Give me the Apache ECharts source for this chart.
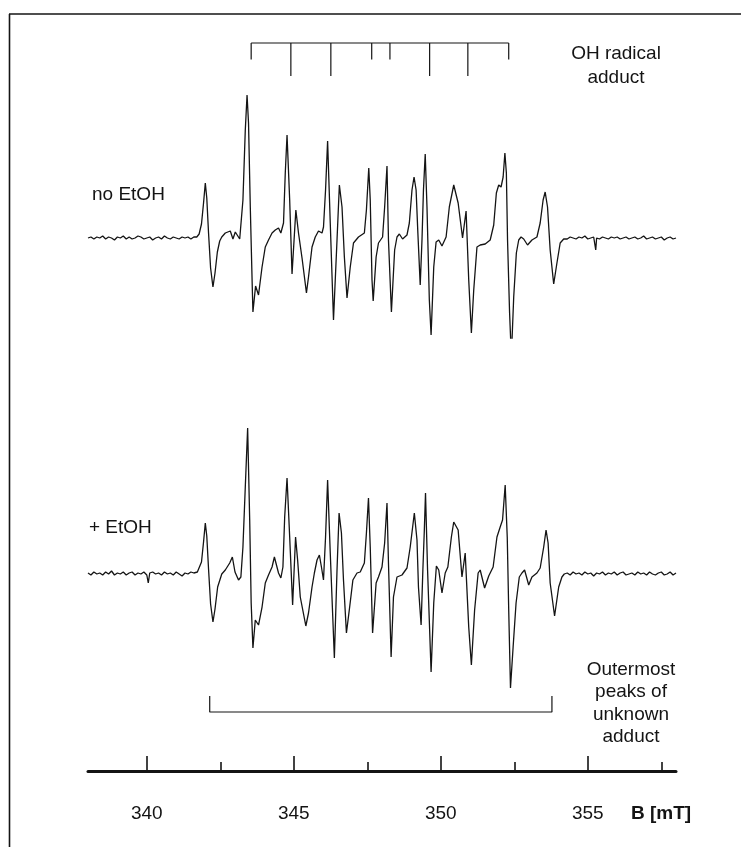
<!DOCTYPE html>
<html>
<head>
<meta charset="utf-8">
<script src="https://cdn.jsdelivr.net/npm/echarts@6/dist/echarts.min.js"></script>
<style>
  html, body { margin: 0; padding: 0; background: #fff; }
  #chart { width: 741px; height: 854px; }
</style>
</head>
<body>
<div id="chart"></div>
<script>
// field axis, mT
const fieldMin = 338;
const fieldMax = 358;
const majorTicks = [340, 345, 350, 355];
const minorTicks = [342.5, 347.5, 352.5, 357.5];

// stick diagram of the OH radical adduct (line positions, relative height)
const ohLines = [343.55, 344.90, 346.26, 347.65, 348.27, 349.62, 350.92, 352.31];
const ohRel = [1, 2, 2, 1, 1, 2, 2, 1];

// outermost peaks of the unknown adduct
const unknownOuter = [342.14, 353.78];

// spectrum without ethanol: [B (mT), signal]
const noEtOH = [
  [338.0, 0], [338.1, 1], [338.2, -1], [338.3, 1], [338.4, 0], [338.5, 2], [338.6, -1], [338.7, 1],
  [338.8, 0], [338.9, -2], [339.0, 1], [339.1, 0], [339.2, 2], [339.3, -1], [339.4, 1], [339.5, -1],
  [339.6, 0], [339.7, 2], [339.8, 1], [339.9, -1], [340.0, 0], [340.1, 1], [340.2, -2], [340.3, 0],
  [340.4, 1], [340.5, -1], [340.6, 2], [340.7, 0], [340.8, -1], [340.9, 1], [341.0, 0], [341.1, -1],
  [341.2, 1], [341.3, 0], [341.4, 1], [341.5, -1], [341.6, 1], [341.70, 1],
  [341.78, 4], [341.86, 14], [341.93, 35], [341.99, 55], [342.04, 40], [342.10, 5], [342.17, -30],
  [342.25, -49], [342.32, -35], [342.40, -14], [342.48, -3], [342.55, 1], [342.67, 5], [342.84, 7],
  [342.93, -1], [343.01, 6], [343.16, -1], [343.27, 38], [343.35, 108], [343.41, 143], [343.46, 115],
  [343.52, 31], [343.59, -52], [343.61, -74], [343.70, -48], [343.80, -57], [343.92, -29], [344.03, -9],
  [344.14, -2], [344.26, 5], [344.37, 8], [344.48, 10], [344.56, 5], [344.65, 15], [344.71, 65],
  [344.77, 103], [344.86, 38], [344.94, -36], [345.07, 28], [345.16, 5], [345.28, -20], [345.43, -55],
  [345.50, -39], [345.62, -9], [345.73, 1], [345.84, 7], [345.96, 5], [346.01, 11], [346.08, 48],
  [346.15, 97], [346.24, 15], [346.35, -82], [346.47, -2], [346.55, 53], [346.64, 31], [346.72, -19],
  [346.81, -60], [346.92, -29], [347.03, -5], [347.20, 1], [347.40, 5], [347.47, 28], [347.55, 70],
  [347.60, 38], [347.66, -42], [347.70, -63], [347.80, -19], [347.88, -5], [348.02, 1], [348.09, 31],
  [348.17, 72], [348.22, -2], [348.32, -74], [348.43, -12], [348.51, 1], [348.59, 4], [348.70, -1],
  [348.85, 3], [348.93, 15], [349.02, 48], [349.09, 61], [349.16, 48], [349.22, 5], [349.30, -47],
  [349.36, -2], [349.41, 48], [349.47, 84], [349.53, 31], [349.61, -62], [349.67, -97], [349.76, -29],
  [349.84, -4], [349.93, -2], [350.04, -8], [350.18, 1], [350.29, 31], [350.44, 53], [350.59, 35],
  [350.74, 0], [350.86, 27], [350.95, -42], [351.04, -95], [351.12, -52], [351.23, -9], [351.34, -7],
  [351.51, -6], [351.68, -2], [351.80, 13], [351.89, 45], [351.97, 53], [352.05, 51], [352.12, 61],
  [352.18, 85], [352.23, 65], [352.27, -2], [352.34, -75], [352.40, -119], [352.48, -59], [352.57, -15],
  [352.65, -2], [352.73, 1], [352.82, -1], [352.95, -7], [353.10, -2], [353.27, 1], [353.38, 15],
  [353.48, 38], [353.55, 46], [353.63, 31], [353.72, -12], [353.84, -46], [353.95, -25], [354.06, -5],
  [354.18, -1],
  [354.3, -1], [354.4, 1], [354.5, 0], [354.6, -1], [354.7, 1], [354.8, 0], [354.9, 2], [355.0, -1],
  [355.1, 0], [355.2, 1], [355.27, -12], [355.3, 0], [355.4, -1], [355.5, 1], [355.6, 0], [355.7, -1],
  [355.8, 1], [355.9, 0], [356.0, 1], [356.1, -1], [356.2, 0], [356.3, 1], [356.4, -1], [356.5, 0],
  [356.6, 1], [356.7, -1], [356.8, 0], [356.9, 2], [357.0, -1], [357.1, 0], [357.2, 1], [357.3, -1],
  [357.4, 0], [357.5, 1], [357.6, -2], [357.7, 0], [357.8, 1], [357.9, -1], [358.0, 0]
];

// spectrum with ethanol: [B (mT), signal]
const plusEtOH = [
  [338.0, 1], [338.1, -1], [338.2, 2], [338.3, 0], [338.4, 1], [338.5, -1], [338.6, 2], [338.7, 0],
  [338.8, 3], [338.9, -1], [339.0, 1], [339.1, 0], [339.2, 2], [339.3, -1], [339.4, 1], [339.5, 2],
  [339.6, -1], [339.7, 1], [339.8, 0], [339.9, 2], [340.0, -1], [340.05, -9], [340.1, 1], [340.2, 2],
  [340.3, 0], [340.4, 1], [340.5, -1], [340.6, 2], [340.7, 0], [340.8, 1], [340.9, -1], [341.0, 2],
  [341.1, 0], [341.2, -2], [341.3, 1], [341.4, 0], [341.5, 2], [341.6, 1], [341.72, 2],
  [341.86, 12], [341.93, 32], [341.99, 51], [342.04, 38], [342.10, 5], [342.17, -30], [342.25, -48],
  [342.32, -35], [342.41, -13], [342.55, 0], [342.67, 4], [342.82, 11], [342.91, 17], [343.00, 2],
  [343.12, -6], [343.20, -3], [343.27, 27], [343.35, 87], [343.43, 146], [343.50, 54], [343.55, -29],
  [343.61, -74], [343.69, -46], [343.80, -51], [343.92, -33], [344.03, -9], [344.14, -1], [344.26, 7],
  [344.34, 17], [344.39, 19], [344.48, 1], [344.56, -4], [344.63, 7], [344.69, 57], [344.77, 96],
  [344.86, 37], [344.96, -31], [345.06, 37], [345.13, 14], [345.22, -23], [345.41, -52], [345.50, -39],
  [345.62, -13], [345.70, 1], [345.79, 14], [345.87, 19], [345.94, 7], [346.01, -6], [346.08, 37],
  [346.15, 94], [346.24, 21], [346.38, -84], [346.47, 4], [346.54, 61], [346.62, 41], [346.69, -6],
  [346.79, -59], [346.90, -33], [347.01, -6], [347.15, 1], [347.26, 2], [347.40, 11], [347.47, 41],
  [347.54, 76], [347.60, 27], [347.68, -59], [347.80, -9], [347.88, -3], [348.00, 7], [348.09, 31],
  [348.17, 71], [348.22, 11], [348.31, -83], [348.39, -23], [348.51, -3], [348.68, -1], [348.85, 6],
  [348.96, 27], [349.10, 61], [349.19, 34], [349.24, -13], [349.33, -51], [349.39, 4], [349.44, 44],
  [349.48, 81], [349.55, 4], [349.67, -98], [349.76, -29], [349.85, 8], [349.93, 4], [350.04, -19],
  [350.15, 1], [350.24, 7], [350.36, 37], [350.44, 52], [350.59, 44], [350.72, -3], [350.83, 21],
  [350.95, -53], [351.04, -91], [351.15, -36], [351.27, 1], [351.34, 4], [351.49, -14], [351.63, -2],
  [351.78, 7], [351.91, 37], [352.02, 47], [352.10, 54], [352.19, 89], [352.26, 37], [352.31, -36],
  [352.37, -114], [352.46, -73], [352.56, -29], [352.67, -3], [352.76, 1], [352.85, 4], [352.99, -11],
  [353.10, -3], [353.27, 1], [353.38, 6], [353.50, 27], [353.58, 44], [353.65, 31], [353.72, -9],
  [353.87, -42], [354.01, -13], [354.12, -3], [354.20, 0],
  [354.3, 1], [354.4, -1], [354.5, 2], [354.6, 0], [354.7, 1], [354.8, -1], [354.9, 2], [355.0, 0],
  [355.1, 1], [355.2, -2], [355.3, 1], [355.4, 0], [355.5, 2], [355.6, -1], [355.7, 1], [355.8, 0],
  [355.9, 2], [356.0, -1], [356.1, 1], [356.2, 2], [356.3, -1], [356.4, 0], [356.5, 1], [356.6, -1],
  [356.7, 2], [356.8, 0], [356.9, 1], [357.0, -1], [357.1, 2], [357.2, 0], [357.3, -1], [357.4, 1],
  [357.5, 2], [357.6, -1], [357.7, 0], [357.8, 2], [357.9, -1], [358.0, 1]
];

// layout (signal units are pixels above each baseline)
const STICK_TOP = 195;
const STICK_UNIT = 16.5;
const BRACKET_LOW = -138;
const BRACKET_HIGH = -122;
const FONT = '"Liberation Sans", Arial, Helvetica, sans-serif';
const INK = '#141414';

const chart = echarts.init(document.getElementById('chart'), null, { renderer: 'canvas' });

const hiddenY = { type: 'value', show: false };

function label(text, x, y, align, weight) {
  return {
    type: 'text', x: x, y: y,
    style: {
      text: text, font: (weight || '') + ' 19px ' + FONT, fill: INK,
      textAlign: align, textVerticalAlign: 'middle'
    }
  };
}

const option = {
  animation: false,
  backgroundColor: '#fff',
  grid: [
    { left: 88, right: 65, top: 38, height: 300 },
    { left: 88, right: 65, top: 374, height: 397 }
  ],
  xAxis: [
    { type: 'value', gridIndex: 0, min: fieldMin, max: fieldMax, show: false },
    {
      type: 'value', gridIndex: 1, min: fieldMin, max: fieldMax, position: 'bottom',
      axisLine: { onZero: false, lineStyle: { color: INK, width: 3 } },
      axisTick: { inside: true, length: 15, lineStyle: { color: INK, width: 1.6 }, customValues: majorTicks },
      axisLabel: { customValues: majorTicks, margin: 33, fontSize: 19, color: INK, fontFamily: FONT },
      splitLine: { show: false }
    },
    {
      type: 'value', gridIndex: 1, min: fieldMin, max: fieldMax, position: 'bottom', offset: 0,
      axisLine: { show: false, onZero: false },
      axisTick: { inside: true, length: 9, lineStyle: { color: INK, width: 1.6 }, customValues: minorTicks },
      axisLabel: { show: false },
      splitLine: { show: false }
    }
  ],
  yAxis: [
    Object.assign({ gridIndex: 0, min: -100, max: 200 }, hiddenY),
    Object.assign({ gridIndex: 1, min: -197, max: 200 }, hiddenY)
  ],
  series: [
    {
      name: 'no EtOH', type: 'line', xAxisIndex: 0, yAxisIndex: 0,
      data: noEtOH, showSymbol: false, lineStyle: { color: INK, width: 1.3 }
    },
    {
      name: 'OH bar', type: 'line', xAxisIndex: 0, yAxisIndex: 0, showSymbol: false,
      data: [[ohLines[0], STICK_TOP], [ohLines[ohLines.length - 1], STICK_TOP]],
      lineStyle: { color: INK, width: 1.2 }
    },
    {
      name: 'OH sticks', type: 'custom', xAxisIndex: 0, yAxisIndex: 0,
      data: ohLines.map((b, i) => [b, ohRel[i]]),
      renderItem: function (params, api) {
        const b = api.value(0);
        const p0 = api.coord([b, STICK_TOP]);
        const p1 = api.coord([b, STICK_TOP - api.value(1) * STICK_UNIT]);
        return {
          type: 'line',
          shape: { x1: p0[0], y1: p0[1], x2: p1[0], y2: p1[1] },
          style: { stroke: INK, lineWidth: 1.2 }
        };
      }
    },
    {
      name: '+ EtOH', type: 'line', xAxisIndex: 1, yAxisIndex: 1,
      data: plusEtOH, showSymbol: false, lineStyle: { color: INK, width: 1.3 }
    },
    {
      name: 'unknown bracket', type: 'line', xAxisIndex: 1, yAxisIndex: 1, showSymbol: false,
      data: [
        [unknownOuter[0], BRACKET_HIGH], [unknownOuter[0], BRACKET_LOW],
        [unknownOuter[1], BRACKET_LOW], [unknownOuter[1], BRACKET_HIGH]
      ],
      lineStyle: { color: INK, width: 1.2 }
    }
  ],
  graphic: [
    { type: 'line', shape: { x1: 9, y1: 14, x2: 741, y2: 14 }, style: { stroke: INK, lineWidth: 1.6 } },
    { type: 'line', shape: { x1: 9.5, y1: 14, x2: 9.5, y2: 847 }, style: { stroke: INK, lineWidth: 1.6 } },
    label('OH radical', 616, 54, 'center'),
    label('adduct', 616, 78, 'center'),
    label('no EtOH', 92, 195, 'left'),
    label('+ EtOH', 89, 528, 'left'),
    label('Outermost', 631, 670, 'center'),
    label('peaks of', 631, 692, 'center'),
    label('unknown', 631, 715, 'center'),
    label('adduct', 631, 737, 'center'),
    label('B [mT]', 631, 814, 'left', 'bold')
  ]
};

chart.setOption(option);
</script>
</body>
</html>
